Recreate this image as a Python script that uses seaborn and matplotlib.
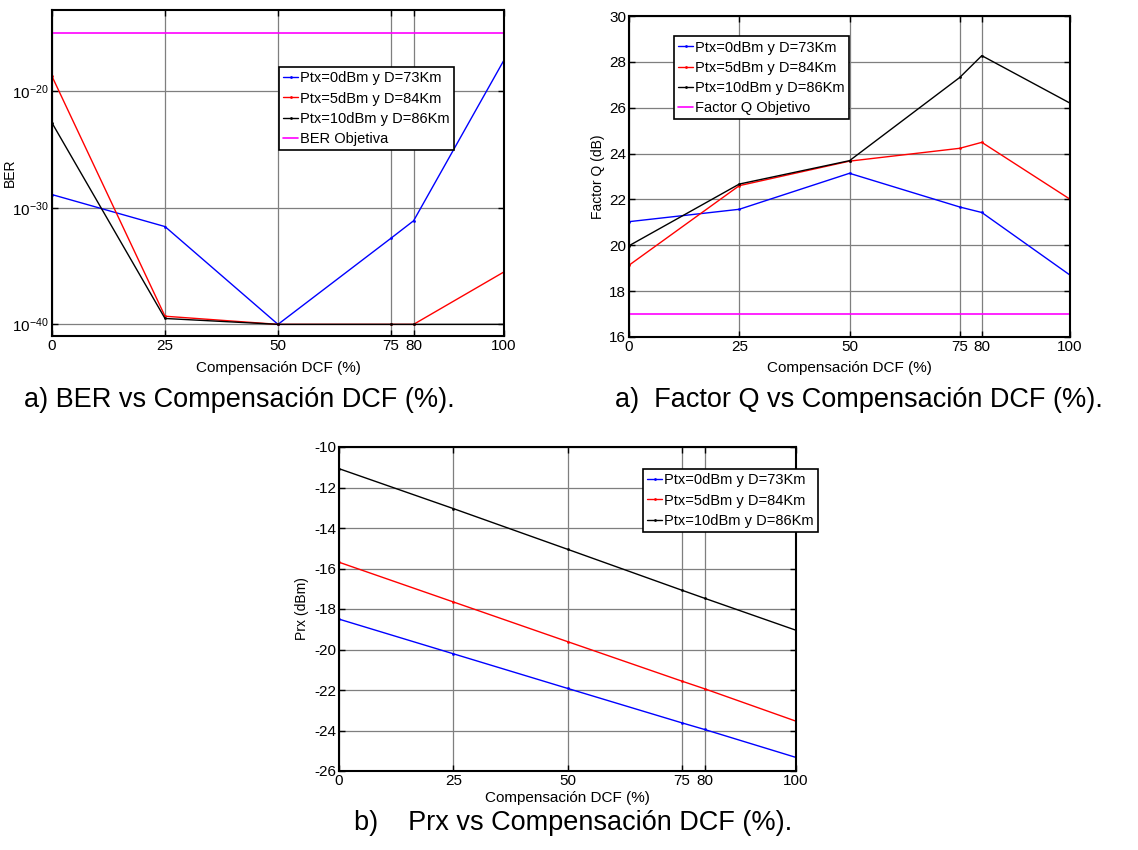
import matplotlib
matplotlib.use("Agg")
import matplotlib.pyplot as plt
import seaborn as sns
from matplotlib.ticker import FixedLocator, FixedFormatter, NullLocator

# Datos
compensacion = [0, 25, 50, 75, 80, 100]
series_labels = ["Ptx=0dBm y D=73Km", "Ptx=5dBm y D=84Km", "Ptx=10dBm y D=86Km"]
series_colors = ["#0000ff", "#ff0000", "#000000"]

# BER
ber_0dbm = [1.4e-29, 2.5e-32, 1.0e-40, 2.5e-33, 7.9e-32, 5.0e-18]
ber_5dbm = [2.0e-19, 5.0e-40, 1.0e-40, 1.0e-40, 1.0e-40, 3.2e-36]
ber_10dbm = [2.0e-23, 3.2e-40, 1.0e-40, 1.0e-40, 1.0e-40, 1.0e-40]
ber_objetivo = 1.0e-15
ber_ticks = [1e-40, 1e-30, 1e-20]
ber_tick_labels = ["$\\mathregular{10^{-40}}$", "$\\mathregular{10^{-30}}$", "$\\mathregular{10^{-20}}$"]

# Factor Q (dB)
q_0dbm = [21.03, 21.57, 23.14, 21.67, 21.43, 18.70]
q_5dbm = [19.13, 22.60, 23.67, 24.23, 24.49, 22.01]
q_10dbm = [19.98, 22.67, 23.69, 27.32, 28.27, 26.20]
q_objetivo = 17.0
q_ticks = [16, 18, 20, 22, 24, 26, 28, 30]

# Prx (dBm)
prx_0dbm = [-18.50, -20.21, -21.92, -23.62, -23.95, -25.33]
prx_5dbm = [-15.69, -17.65, -19.61, -21.56, -21.94, -23.54]
prx_10dbm = [-11.07, -13.04, -15.05, -17.07, -17.47, -19.05]
prx_ticks = [-26, -24, -22, -20, -18, -16, -14, -12, -10]

sns.set_style("ticks")
plt.rcParams["font.family"] = ["Liberation Sans", "DejaVu Sans"]
plt.rcParams["axes.unicode_minus"] = False
plt.rcParams["text.color"] = "black"
plt.rcParams["axes.labelcolor"] = "black"
plt.rcParams["xtick.color"] = "black"
plt.rcParams["ytick.color"] = "black"

W, H = 1138, 850
fig = plt.figure(figsize=(W / 100, H / 100), dpi=100)
fig.patch.set_facecolor("white")

legend_font = {"family": ["Liberation Sans", "DejaVu Sans"], "size": 10.5}


def setup_axes(ax, ylabel, ylab_x, xlab_y):
    ax.set_xlim(0, 100)
    ax.xaxis.set_major_locator(FixedLocator(compensacion))
    ax.grid(True, color="#7f7f7f", linewidth=0.9, linestyle="-")
    ax.set_axisbelow(True)
    for s in ax.spines.values():
        s.set_color("black")
        s.set_linewidth(1.5)
    ax.tick_params(direction="in", top=True, right=True, length=4, width=1,
                   labelsize=11, pad=2, colors="black")
    ax.set_xlabel("Compensación DCF (%)", fontsize=11, va="center", color="black")
    ax.xaxis.set_label_coords(0.5, xlab_y)
    ax.set_ylabel(ylabel, fontsize=10, va="center", color="black")
    ax.yaxis.set_label_coords(ylab_x, 0.5)


def draw_series(ax, values):
    for vals, lab, col in zip(values, series_labels, series_colors):
        sns.lineplot(x=compensacion, y=vals, ax=ax, color=col, label=lab,
                     linewidth=1.0, marker=".", markersize=4, markeredgewidth=0)


def add_legend(ax, anchor):
    leg = ax.legend(loc="upper left", bbox_to_anchor=anchor, borderaxespad=0,
                    frameon=True, fancybox=False, edgecolor="black", framealpha=1,
                    prop=legend_font, handlelength=1.0, handletextpad=0.15,
                    labelspacing=0.42, borderpad=0.3)
    leg.get_frame().set_linewidth(1.2)


# a) BER
ax1 = fig.add_axes([52 / W, 1 - 336 / H, 452 / W, 326 / H])
draw_series(ax1, [ber_0dbm, ber_5dbm, ber_10dbm])
sns.lineplot(x=[compensacion[0], compensacion[-1]], y=[ber_objetivo, ber_objetivo],
             ax=ax1, color="#ff00ff", linewidth=1.2, label="BER Objetiva")
ax1.set_yscale("log")
ax1.set_ylim(1e-41, 1e-13)
ax1.yaxis.set_major_locator(FixedLocator(ber_ticks))
ax1.yaxis.set_major_formatter(FixedFormatter(ber_tick_labels))
ax1.yaxis.set_minor_locator(NullLocator())
setup_axes(ax1, "BER", -0.094, -0.098)
add_legend(ax1, (0.502, 0.825))

# a) Factor Q
ax2 = fig.add_axes([629 / W, 1 - 337 / H, 441 / W, 321 / H])
draw_series(ax2, [q_0dbm, q_5dbm, q_10dbm])
sns.lineplot(x=[compensacion[0], compensacion[-1]], y=[q_objetivo, q_objetivo],
             ax=ax2, color="#ff00ff", linewidth=1.2, label="Factor Q Objetivo")
ax2.set_ylim(16, 30)
ax2.yaxis.set_major_locator(FixedLocator(q_ticks))
setup_axes(ax2, "Factor Q (dB)", -0.07, -0.097)
add_legend(ax2, (0.102, 0.937))

# b) Prx
ax3 = fig.add_axes([339 / W, 1 - 771 / H, 457 / W, 324 / H])
draw_series(ax3, [prx_0dbm, prx_5dbm, prx_10dbm])
ax3.set_ylim(-26, -10)
ax3.yaxis.set_major_locator(FixedLocator(prx_ticks))
setup_axes(ax3, "Prx (dBm)", -0.08, -0.083)
add_legend(ax3, (0.665, 0.932))

# Pies de figura
fig.text(24 / W, 1 - 400 / H, "a) BER vs Compensación DCF (%).", fontsize=19.5,
         va="center", ha="left")
fig.text(615 / W, 1 - 400 / H, "a)  Factor Q vs Compensación DCF (%).", fontsize=19.5,
         va="center", ha="left")
fig.text(354 / W, 1 - 823 / H, "b)    Prx vs Compensación DCF (%).", fontsize=19.5,
         va="center", ha="left")

fig.savefig("out.png", dpi=100, facecolor="white")
